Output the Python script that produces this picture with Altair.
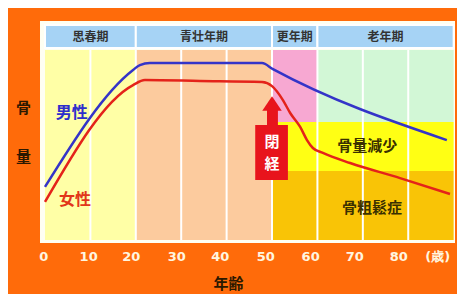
import altair as alt
import pandas as pd

# ---- data (x = age in years, y = relative bone mass) ----
male_age = [0, 19.4, 20.9, 23.1, 47.8, 50.2, 88.5]
male_mass = [24.7, 79.1, 81.4, 82.3, 82.3, 79.5, 46.5]

female_age = [0, 19.4, 22.0, 34.1, 47.8, 50.0, 52.4, 54.0, 56.2, 57.7, 59.0, 61.2, 67.2, 78.2, 89.2]
female_mass = [17.7, 72.1, 74.4, 74.0, 73.5, 71.6, 65.1, 59.1, 52.6, 46.5, 42.8, 40.5, 35.8, 28.8, 21.4]

period_names = ["思春期", "青壮年期", "更年期", "老年期"]
period_start = [0, 20, 50, 60]
period_end = [20, 50, 60, 90]
header_low, header_high = 89.3, 100

zone_names = ["youth", "adult", "meno", "old", "loss", "osteo"]
zone_x1 = [0, 20, 50, 60, 50, 50]
zone_x2 = [20, 50, 60, 90, 90, 90]
zone_y1 = [0, 0, 54.9, 54.9, 32.1, 0]
zone_y2 = [88.4, 88.4, 88.4, 88.4, 54.9, 32.1]
zone_colors = ["#FFFFA6", "#FCCB9E", "#F7A8D2", "#D2F7D6", "#FFFF14", "#F9C406"]

grid_ages = [10, 20, 30, 40, 50, 60, 70, 80]
# where the printed tick labels sit (they drift slightly left of the grid in the original)
tick_pos = [-0.4, 9.5, 18.9, 28.9, 38.5, 48.5, 58.4, 68.1, 77.8, 86.4]

zone_labels = ["骨量減少", "骨粗鬆症"]
zone_label_x = [71, 72]
zone_label_y = [43.7, 14.9]

sex_labels = ["男性", "女性"]
sex_label_x = [5.9, 6.6]
sex_label_y = [59.1, 18.6]

meno_box = dict(x=46.3, x2=53.5, y=27.9, y2=53.5)
meno_shaft = dict(x=48.9, x2=51.3, y=53.5, y2=61.0)
meno_tip = dict(x=50.0, y=63.5)
meno_chars = ["閉", "経"]
meno_char_y = [45.6, 35.3]

FONT = "Noto Sans CJK JP"
ORANGE = "#FF6B0A"

X = alt.Scale(domain=[-1.1, 90.3], nice=False, zero=False)
Y = alt.Scale(domain=[-1.4, 101.9], nice=False, zero=False)

zones = pd.DataFrame({"zone": zone_names, "x": zone_x1, "x2": zone_x2, "y": zone_y1, "y2": zone_y2})
periods = pd.DataFrame({"name": period_names, "x": period_start, "x2": period_end,
                        "y": [header_low] * 4, "y2": [header_high] * 4,
                        "mid": [(a + b) / 2 for a, b in zip(period_start, period_end)],
                        "ty": [(header_low + header_high) / 2] * 4})
grid = pd.DataFrame({"x": grid_ages, "y": [0] * len(grid_ages), "y2": [88.4] * len(grid_ages)})
male = pd.DataFrame({"age": male_age, "mass": male_mass})
female = pd.DataFrame({"age": female_age, "mass": female_mass})

x_axis = alt.Axis(values=tick_pos,
                  labelExpr="datum.value > 85 ? '(歳)' : format(round(datum.value / 10) * 10, 'd')",
                  grid=False, ticks=False, domain=False, labelFlush=False, labelOverlap=False,
                  labelColor="#FFF6E0", labelFont="DejaVu Sans", labelFontSize=13,
                  labelFontWeight="bold", labelPadding=7,
                  title="年齢", titleFont=FONT, titleFontSize=15, titleFontWeight="bold",
                  titleColor="#2B1800", titleX=188, titleY=40, titleBaseline="middle")
y_axis = alt.Axis(labels=False, ticks=False, domain=False, grid=False,
                  title=["骨", "量"], titleAngle=0, titleX=-17, titleY=79, titleBaseline="top",
                  titleLineHeight=49, titleAlign="center", titleFont=FONT, titleFontSize=15,
                  titleFontWeight="bold", titleColor="#2B1800")

base_x = alt.X("x:Q", scale=X, axis=x_axis)
base_y = alt.Y("y:Q", scale=Y, axis=y_axis)

zone_layer = alt.Chart(zones).mark_rect().encode(
    x=base_x, x2="x2", y=base_y, y2="y2",
    color=alt.Color("zone:N", scale=alt.Scale(domain=zone_names, range=zone_colors), legend=None),
)

grid_layer = alt.Chart(grid).mark_rule(color="#FFFFFF", strokeWidth=2).encode(
    x=alt.X("x:Q", scale=X), y=alt.Y("y:Q", scale=Y), y2="y2"
)

header_layer = alt.Chart(periods).mark_rect(fill="#A6D3F5", stroke="#FFFFFF", strokeWidth=2).encode(
    x=alt.X("x:Q", scale=X), x2="x2", y=alt.Y("y:Q", scale=Y), y2="y2"
)
header_text = alt.Chart(periods).mark_text(font=FONT, fontSize=12, fontWeight="bold", color="#333333").encode(
    x=alt.X("mid:Q", scale=X), y=alt.Y("ty:Q", scale=Y), text="name:N"
)

male_line = alt.Chart(male).mark_line(color="#3434C8", strokeWidth=2.5, interpolate="monotone").encode(
    x=alt.X("age:Q", scale=X), y=alt.Y("mass:Q", scale=Y)
)
female_line = alt.Chart(female).mark_line(color="#E4231A", strokeWidth=2.5, interpolate="monotone").encode(
    x=alt.X("age:Q", scale=X), y=alt.Y("mass:Q", scale=Y)
)

box_df = pd.DataFrame([meno_box, meno_shaft])
box_layer = alt.Chart(box_df).mark_rect(color="#E8141C").encode(
    x=alt.X("x:Q", scale=X), x2="x2", y=alt.Y("y:Q", scale=Y), y2="y2"
)
tip_layer = alt.Chart(pd.DataFrame([meno_tip])).mark_point(
    shape="M-1,0.75L0,-0.75L1,0.75Z", filled=True, size=380, color="#E8141C", opacity=1
).encode(x=alt.X("x:Q", scale=X), y=alt.Y("y:Q", scale=Y))
meno_text = alt.Chart(pd.DataFrame({"t": meno_chars, "x": [meno_tip["x"]] * 2, "y": meno_char_y})).mark_text(
    font=FONT, fontSize=15, fontWeight="bold", color="#FFFFFF"
).encode(x=alt.X("x:Q", scale=X), y=alt.Y("y:Q", scale=Y), text="t:N")

zone_text = alt.Chart(pd.DataFrame({"t": zone_labels, "x": zone_label_x, "y": zone_label_y})).mark_text(
    font=FONT, fontSize=15, fontWeight="bold", color="#3A3000"
).encode(x=alt.X("x:Q", scale=X), y=alt.Y("y:Q", scale=Y), text="t:N")

sex_text = alt.Chart(pd.DataFrame({"t": sex_labels, "x": sex_label_x, "y": sex_label_y})).mark_text(
    font=FONT, fontSize=16, fontWeight="bold"
).encode(
    x=alt.X("x:Q", scale=X), y=alt.Y("y:Q", scale=Y), text="t:N",
    color=alt.Color("t:N", scale=alt.Scale(domain=sex_labels, range=["#2E2ECC", "#E2361A"]), legend=None),
)

chart = alt.layer(
    zone_layer, grid_layer, header_layer, header_text, male_line, female_line,
    box_layer, tip_layer, meno_text, zone_text, sex_text
).resolve_scale(color="independent").properties(
    width=415, height=222,
    padding={"left": 32, "top": 13, "right": 2, "bottom": 51},
    autosize=alt.AutoSizeParams(type="none"),
    background=ORANGE,
).configure_view(fill="#FFFFF2", stroke=None)

chart.save("out.html", embed_options={"renderer": "svg", "actions": False})
